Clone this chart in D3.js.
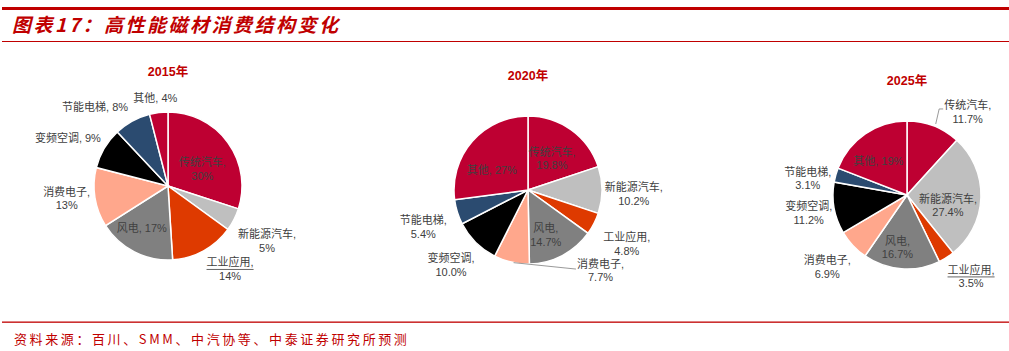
<!DOCTYPE html>
<html>
<head>
<meta charset="utf-8">
<script src="https://cdn.jsdelivr.net/npm/d3@7"></script>
<style>
  body { margin: 0; background: #fff; }
  text { font-family: "Liberation Sans", Arial, "Noto Sans CJK SC", sans-serif; }
</style>
</head>
<body>
<div id="chart"></div>
<script>
/* DATA */
const categories = ["传统汽车", "新能源汽车", "工业应用", "风电", "消费电子", "变频空调", "节能电梯", "其他"];
const years = ["2015年", "2020年", "2025年"];
const values2015 = [30, 5, 14, 17, 13, 9, 8, 4];
const values2020 = [19.8, 10.2, 4.8, 14.7, 7.7, 10.0, 5.4, 27];
const values2025 = [11.7, 27.4, 3.5, 16.7, 6.9, 11.2, 3.1, 19];
// decimals shown in each label
const digits2015 = [0, 0, 0, 0, 0, 0, 0, 0];
const digits2020 = [1, 1, 1, 1, 1, 1, 1, 0];
const digits2025 = [1, 1, 1, 1, 1, 1, 1, 0];

const titleText = "图表17：高性能磁材消费结构变化";
const sourceText = "资料来源：百川、SMM、中汽协等、中泰证券研究所预测";

/* LAYOUT */
const width = 1009, height = 351;
const red = "#C00000";
const colors = ["#BE0032", "#BFBFBF", "#DE3A00", "#808080", "#FFA78C", "#000000", "#2B4B70", "#BE0032"];

// label placement per slice: [radius factor, angle shift (deg), one line?, leader type]
const labels2015 = [[0.52, 9, 0, ""], [1.53, 2, 0, ""], [1.4, -8, 0, "under"], [0.67, 5, 1, ""],
                    [1.38, 2, 0, ""], [1.5, -5, 1, ""], [1.45, -14, 1, ""], [1.2, -1, 1, ""]];
const labels2020 = [[0.54, 1, 0, ""], [1.43, 2, 0, ""], [1.52, 1.5, 0, ""], [0.65, 6, 0, ""],
                    [1.46, -55, 0, "left"], [1.45, 1, 0, ""], [1.5, -2, 0, ""], [0.56, -12, 1, ""]];
const labels2025 = [[1.39, 15, 0, "elbow"], [0.57, 12, 0, ""], [1.4, -6, 0, "under"], [0.72, 6, 0, ""],
                    [1.45, 1, 0, ""], [1.35, 0, 0, ""], [1.36, -6, 0, ""], [0.6, -6, 1, ""]];

const pies = [
  {year: years[0], values: values2015, digits: digits2015, labels: labels2015, cx: 168, cy: 186, ty: 76},
  {year: years[1], values: values2020, digits: digits2020, labels: labels2020, cx: 528, cy: 190, ty: 80},
  {year: years[2], values: values2025, digits: digits2025, labels: labels2025, cx: 907, cy: 195, ty: 85}
];
const radius = 74;

const svg = d3.select("#chart").append("svg")
  .attr("width", width)
  .attr("height", height);

// header / footer rules
svg.append("rect").attr("x", 2).attr("y", 7).attr("width", width - 2).attr("height", 3).attr("fill", red);
svg.append("rect").attr("x", 2).attr("y", 41).attr("width", width - 2).attr("height", 1).attr("fill", red);
svg.append("rect").attr("x", 2).attr("y", 321.5).attr("width", width - 2).attr("height", 1.3).attr("fill", red);

svg.append("text")
  .attr("x", 12).attr("y", 32)
  .style("font-family", "'Noto Sans CJK SC', sans-serif")
  .style("font-size", "19px")
  .style("font-weight", "bold")
  .style("font-style", "italic")
  .style("letter-spacing", "2.5px")
  .attr("fill", red)
  .text(titleText);

svg.append("text")
  .attr("x", 14).attr("y", 344)
  .style("font-family", "'Noto Sans CJK SC', sans-serif")
  .style("font-size", "13px")
  .style("letter-spacing", "2.6px")
  .attr("fill", red)
  .text(sourceText);

const pie = d3.pie().sort(null).value(d => d.value);
const arc = d3.arc().innerRadius(0).outerRadius(radius);
const rad = Math.PI / 180;

pies.forEach(p => {
  const rows = categories.map((c, i) => ({
    name: c, value: p.values[i], color: colors[i],
    label: c + ", " + d3.format("." + p.digits[i] + "f")(p.values[i]) + "%",
    lay: p.labels[i]
  }));

  const g = svg.append("g").attr("transform", `translate(${p.cx},${p.cy})`);

  svg.append("text")
    .attr("x", p.cx).attr("y", p.ty)
    .attr("text-anchor", "middle")
    .style("font-size", "12.5px")
    .style("font-weight", "bold")
    .attr("fill", red)
    .text(p.year);

  const arcs = pie(rows);

  g.selectAll("path.slice")
    .data(arcs)
    .join("path")
    .attr("class", "slice")
    .attr("d", arc)
    .attr("fill", d => d.data.color)
    .attr("stroke", "#fff")
    .attr("stroke-width", 1.5);

  arcs.forEach(d => {
    const [rf, dA, oneLine, leader] = d.data.lay;
    const mid = (d.startAngle + d.endAngle) / 2;
    const a = mid + dA * rad;
    const lx = Math.sin(a) * radius * rf;
    const ly = -Math.cos(a) * radius * rf;

    const t = g.append("text")
      .attr("text-anchor", "middle")
      .style("font-size", "11px")
      .attr("fill", "#404040");

    let firstLen;
    if (oneLine) {
      t.attr("x", lx).attr("y", ly + 4).text(d.data.label);
      firstLen = t.node().getComputedTextLength();
    } else {
      const parts = d.data.label.split(" ");
      const t1 = t.append("tspan").attr("x", lx).attr("y", ly - 2.5).text(parts[0]);
      t.append("tspan").attr("x", lx).attr("y", ly + 11).text(parts[1]);
      firstLen = t1.node().getComputedTextLength();
    }

    const left = lx - firstLen / 2;
    const ox = Math.sin(mid) * radius, oy = -Math.cos(mid) * radius;
    const line = d3.line();
    if (leader === "under") {
      g.append("path")
        .attr("d", line([[left, ly + 0.5], [left + firstLen, ly + 0.5]]))
        .attr("stroke", "#404040").attr("stroke-width", 0.8).attr("fill", "none");
    } else if (leader === "left") {
      g.append("path")
        .attr("d", line([[ox + 2, oy + 0.5], [left - 1, ly - 1]]))
        .attr("stroke", "#7F7F7F").attr("stroke-width", 0.8).attr("fill", "none");
    } else if (leader === "elbow") {
      g.append("path")
        .attr("d", line([[ox + 2, oy - 2], [left - 5, ly - 3], [left - 1, ly - 3]]))
        .attr("stroke", "#7F7F7F").attr("stroke-width", 0.8).attr("fill", "none");
    }
  });
});
</script>
</body>
</html>
